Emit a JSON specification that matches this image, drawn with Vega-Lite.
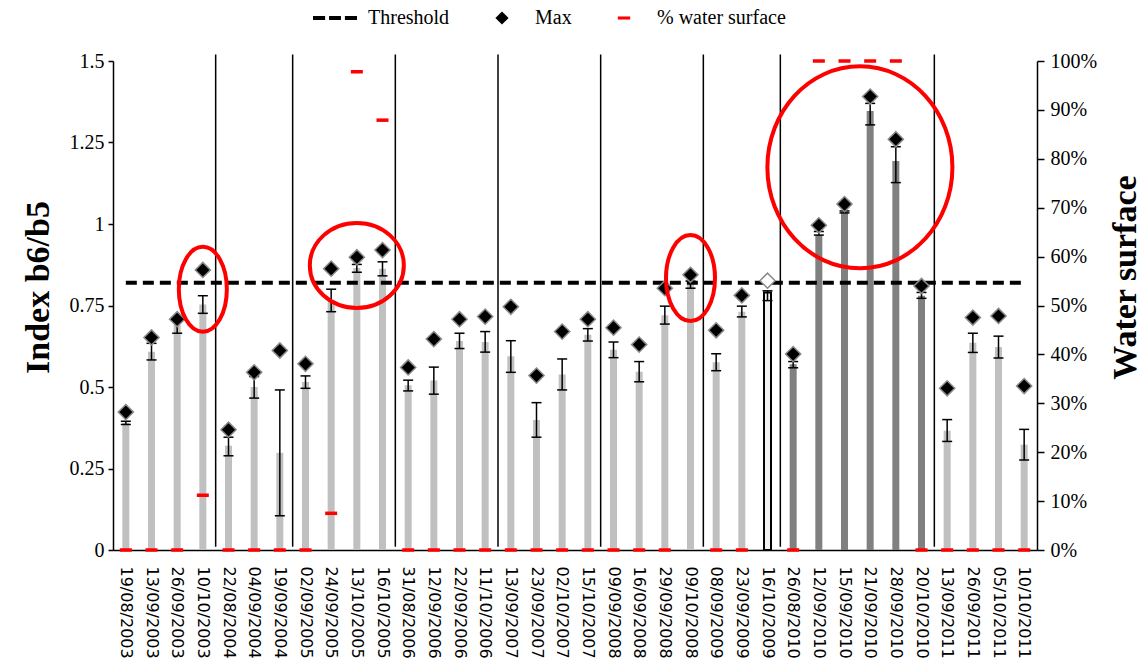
{
  "$schema": "https://vega.github.io/schema/vega-lite/v6.json",
  "width": 924,
  "height": 489,
  "autosize": {"type": "none"},
  "padding": {"left": 113, "top": 61, "right": 109, "bottom": 113},
  "background": "white",
  "config": {
    "view": {"stroke": null},
    "axis": {"grid": false, "domainColor": "black", "tickColor": "black", "labelColor": "black", "titleColor": "black", "domainWidth": 1.5, "tickWidth": 1.5}
  },
  "data": {
    "values": [
      {"date": "19/08/2003", "group": "light", "mean": 0.39, "lo": 0.385, "hi": 0.395, "max": 0.423, "water": 0},
      {"date": "13/09/2003", "group": "light", "mean": 0.608, "lo": 0.583, "hi": 0.634, "max": 0.652, "water": 0},
      {"date": "26/09/2003", "group": "light", "mean": 0.69, "lo": 0.665, "hi": 0.71, "max": 0.708, "water": 0},
      {"date": "10/10/2003", "group": "light", "mean": 0.753, "lo": 0.726, "hi": 0.78, "max": 0.859, "water": 11.2},
      {"date": "22/08/2004", "group": "light", "mean": 0.32, "lo": 0.289, "hi": 0.346, "max": 0.369, "water": 0},
      {"date": "04/09/2004", "group": "light", "mean": 0.5, "lo": 0.466, "hi": 0.532, "max": 0.545, "water": 0},
      {"date": "19/09/2004", "group": "light", "mean": 0.298, "lo": 0.105, "hi": 0.491, "max": 0.612, "water": 0},
      {"date": "02/09/2005", "group": "light", "mean": 0.515, "lo": 0.496, "hi": 0.534, "max": 0.571, "water": 0},
      {"date": "24/09/2005", "group": "light", "mean": 0.765, "lo": 0.731, "hi": 0.8, "max": 0.863, "water": 7.5},
      {"date": "13/10/2005", "group": "light", "mean": 0.865, "lo": 0.852, "hi": 0.876, "max": 0.898, "water": 97.8},
      {"date": "16/10/2005", "group": "light", "mean": 0.863, "lo": 0.841, "hi": 0.884, "max": 0.92, "water": 87.9},
      {"date": "31/08/2006", "group": "light", "mean": 0.505, "lo": 0.488, "hi": 0.521, "max": 0.56, "water": 0},
      {"date": "12/09/2006", "group": "light", "mean": 0.52, "lo": 0.478, "hi": 0.561, "max": 0.647, "water": 0},
      {"date": "22/09/2006", "group": "light", "mean": 0.641, "lo": 0.618, "hi": 0.665, "max": 0.708, "water": 0},
      {"date": "11/10/2006", "group": "light", "mean": 0.638, "lo": 0.607, "hi": 0.67, "max": 0.716, "water": 0},
      {"date": "13/09/2007", "group": "light", "mean": 0.594, "lo": 0.545, "hi": 0.642, "max": 0.746, "water": 0},
      {"date": "23/09/2007", "group": "light", "mean": 0.399, "lo": 0.346, "hi": 0.452, "max": 0.535, "water": 0},
      {"date": "02/10/2007", "group": "light", "mean": 0.538, "lo": 0.491, "hi": 0.586, "max": 0.67, "water": 0},
      {"date": "15/10/2007", "group": "light", "mean": 0.66, "lo": 0.641, "hi": 0.679, "max": 0.708, "water": 0},
      {"date": "09/09/2008", "group": "light", "mean": 0.614, "lo": 0.59, "hi": 0.638, "max": 0.682, "water": 0},
      {"date": "16/09/2008", "group": "light", "mean": 0.547, "lo": 0.516, "hi": 0.578, "max": 0.63, "water": 0},
      {"date": "29/09/2008", "group": "light", "mean": 0.72, "lo": 0.693, "hi": 0.748, "max": 0.803, "water": 0},
      {"date": "09/10/2008", "group": "light", "mean": 0.815, "lo": 0.803, "hi": 0.825, "max": 0.844, "water": null},
      {"date": "08/09/2009", "group": "light", "mean": 0.576, "lo": 0.55, "hi": 0.602, "max": 0.674, "water": 0},
      {"date": "23/09/2009", "group": "light", "mean": 0.731, "lo": 0.715, "hi": 0.748, "max": 0.781, "water": 0},
      {"date": "16/10/2009", "group": "hatched", "mean": 0.79, "lo": 0.765, "hi": 0.795, "max": 0.826, "water": null},
      {"date": "26/08/2010", "group": "dark", "mean": 0.57, "lo": 0.559, "hi": 0.578, "max": 0.601, "water": 0},
      {"date": "12/09/2010", "group": "dark", "mean": 0.966, "lo": 0.966, "hi": 0.977, "max": 0.996, "water": 100},
      {"date": "15/09/2010", "group": "dark", "mean": 1.036, "lo": 1.034, "hi": 1.04, "max": 1.061, "water": 100},
      {"date": "21/09/2010", "group": "dark", "mean": 1.347, "lo": 1.304, "hi": 1.37, "max": 1.391, "water": 100},
      {"date": "28/09/2010", "group": "dark", "mean": 1.193, "lo": 1.127, "hi": 1.237, "max": 1.26, "water": 100},
      {"date": "20/10/2010", "group": "dark", "mean": 0.78, "lo": 0.772, "hi": 0.79, "max": 0.81, "water": 0},
      {"date": "13/09/2011", "group": "light", "mean": 0.366, "lo": 0.333, "hi": 0.4, "max": 0.496, "water": 0},
      {"date": "26/09/2011", "group": "light", "mean": 0.636, "lo": 0.606, "hi": 0.665, "max": 0.713, "water": 0},
      {"date": "05/10/2011", "group": "light", "mean": 0.623, "lo": 0.589, "hi": 0.656, "max": 0.718, "water": 0},
      {"date": "10/10/2011", "group": "light", "mean": 0.323, "lo": 0.276, "hi": 0.37, "max": 0.503, "water": 0}
    ]
  },
  "encoding": {
    "x": {
      "field": "date", "type": "nominal", "sort": null,
      "scale": {"paddingInner": 0, "paddingOuter": 0, "domain": ["19/08/2003","13/09/2003","26/09/2003","10/10/2003","22/08/2004","04/09/2004","19/09/2004","02/09/2005","24/09/2005","13/10/2005","16/10/2005","31/08/2006","12/09/2006","22/09/2006","11/10/2006","13/09/2007","23/09/2007","02/10/2007","15/10/2007","09/09/2008","16/09/2008","29/09/2008","09/10/2008","08/09/2009","23/09/2009","16/10/2009","26/08/2010","12/09/2010","15/09/2010","21/09/2010","28/09/2010","20/10/2010","13/09/2011","26/09/2011","05/10/2011","10/10/2011"]},
      "axis": {"title": null, "labelAngle": 90, "ticks": false, "labelPadding": 16, "labelFont": "DejaVu Sans", "labelFontSize": 16, "labelOverlap": false, "labelBound": false}
    }
  },
  "layer": [
    {
      "layer": [
        {
          "mark": {"type": "bar", "width": 7, "strokeWidth": 2},
          "encoding": {
            "y": {"field": "mean", "type": "quantitative", "scale": {"domain": [0, 1.5], "nice": false},
              "axis": {"orient": "left", "values": [0, 0.25, 0.5, 0.75, 1, 1.25, 1.5], "labelExpr": "'' + datum.value", "tickSize": 5, "labelPadding": 4, "labelFont": "Liberation Serif", "labelFontSize": 20, "title": "Index b6/b5", "titleFont": "Liberation Serif", "titleFontSize": 34, "titleFontWeight": "bold", "titlePadding": 14, "titleY": 226}},
            "fill": {"field": "group", "type": "nominal", "scale": {"domain": ["light", "dark", "hatched"], "range": ["#c0c0c0", "#808080", "#f2f2f2"]}, "legend": null},
            "stroke": {"condition": {"test": "datum.group === 'hatched'", "value": "black"}, "value": null}
          }
        },
        {
          "mark": {"type": "rule", "color": "black", "strokeWidth": 1.5},
          "encoding": {"y": {"field": "lo", "type": "quantitative"}, "y2": {"field": "hi"}}
        },
        {
          "mark": {"type": "tick", "color": "black", "size": 10, "thickness": 1.5, "orient": "horizontal", "opacity": 1},
          "encoding": {"y": {"field": "lo", "type": "quantitative"}}
        },
        {
          "mark": {"type": "tick", "color": "black", "size": 10, "thickness": 1.5, "orient": "horizontal", "opacity": 1},
          "encoding": {"y": {"field": "hi", "type": "quantitative"}}
        },
        {
          "data": {"values": [{"start": "19/08/2003", "end": "10/10/2011", "thr": 0.82}]},
          "mark": {"type": "rule", "color": "black", "strokeWidth": 4, "strokeDash": [11, 6]},
          "encoding": {"x": {"field": "start", "type": "nominal"}, "x2": {"field": "end"}, "y": {"field": "thr", "type": "quantitative"}}
        },
        {
          "mark": {"type": "point", "shape": "diamond", "size": 230, "filled": true, "opacity": 1, "stroke": "#8a8a8a", "strokeWidth": 1.5},
          "encoding": {
            "y": {"field": "max", "type": "quantitative"},
            "fill": {"condition": {"test": "datum.group === 'hatched'", "value": "white"}, "value": "black"}
          }
        },
        {
          "data": {"values": [{"d": "10/10/2003"}, {"d": "19/09/2004"}, {"d": "16/10/2005"}, {"d": "11/10/2006"}, {"d": "15/10/2007"}, {"d": "09/10/2008"}, {"d": "16/10/2009"}, {"d": "20/10/2010"}]},
          "mark": {"type": "rule", "color": "black", "strokeWidth": 1.5},
          "encoding": {"x": {"field": "d", "type": "nominal", "bandPosition": 1}, "y": {"datum": 0.01}, "y2": {"datum": 1.52}}
        },
        {
          "data": {"values": [{}]},
          "mark": {"type": "point", "filled": false, "opacity": 1, "stroke": "#ff0000", "strokeWidth": 4, "size": 7225,
            "shape": "M0.565,0C0.565,0.552 0.312,1 0,1C-0.312,1 -0.565,0.552 -0.565,0C-0.565,-0.552 -0.312,-1 0,-1C0.312,-1 0.565,-0.552 0.565,0Z"},
          "encoding": {"x": {"datum": "10/10/2003"}, "y": {"datum": 0.8}}
        },
        {
          "data": {"values": [{}]},
          "mark": {"type": "point", "filled": false, "opacity": 1, "stroke": "#ff0000", "strokeWidth": 4, "size": 8836,
            "shape": "M1,0C1,0.499 0.552,0.904 0,0.904C-0.552,0.904 -1,0.499 -1,0C-1,-0.499 -0.552,-0.904 0,-0.904C0.552,-0.904 1,-0.499 1,0Z"},
          "encoding": {"x": {"datum": "13/10/2005"}, "y": {"datum": 0.873}}
        },
        {
          "data": {"values": [{}]},
          "mark": {"type": "point", "filled": false, "opacity": 1, "stroke": "#ff0000", "strokeWidth": 4, "size": 7396,
            "shape": "M0.57,0C0.57,0.552 0.315,1 0,1C-0.315,1 -0.57,0.552 -0.57,0C-0.57,-0.552 -0.315,-1 0,-1C0.315,-1 0.57,-0.552 0.57,0Z"},
          "encoding": {"x": {"datum": "09/10/2008"}, "y": {"datum": 0.834}}
        },
        {
          "data": {"values": [{}]},
          "mark": {"type": "point", "filled": false, "opacity": 1, "stroke": "#ff0000", "strokeWidth": 4, "size": 40804,
            "shape": "M0.916,0C0.916,0.552 0.506,1 0,1C-0.506,1 -0.916,0.552 -0.916,0C-0.916,-0.552 -0.506,-1 0,-1C0.506,-1 0.916,-0.552 0.916,0Z"},
          "encoding": {"x": {"datum": "21/09/2010", "bandPosition": 0.1}, "y": {"datum": 1.174}}
        },
        {
          "data": {"values": []},
          "mark": {"type": "point", "filled": true, "opacity": 1},
          "encoding": {
            "color": {"field": "series", "type": "nominal",
              "scale": {"domain": ["Threshold", "Max", "% water surface"], "range": ["black", "black", "#ff0000"]},
              "legend": {"orient": "none", "legendX": 200, "legendY": -65, "direction": "horizontal", "title": null, "symbolSize": 1936, "symbolStrokeWidth": 0, "symbolOpacity": 1, "labelFont": "Liberation Serif", "labelFontSize": 20, "labelColor": "black", "labelOffset": 11, "columnPadding": 30, "padding": 0}},
            "shape": {"field": "series", "type": "nominal",
              "scale": {"domain": ["Threshold", "Max", "% water surface"], "range": ["M-1,-0.09H-0.45V0.09H-1Z M-0.27,-0.09H0.27V0.09H-0.27Z M0.45,-0.09H1V0.09H0.45Z", "M-0.3,0L0,-0.3L0.3,0L0,0.3Z", "M-0.28,-0.07H0.28V0.07H-0.28Z"]}}
          }
        }
      ]
    },
    {
      "layer": [
        {
          "mark": {"type": "tick", "color": "#ff0000", "size": 12, "thickness": 3.5, "orient": "horizontal", "opacity": 1},
          "encoding": {
            "y": {"field": "water", "type": "quantitative", "scale": {"domain": [0, 100], "nice": false},
              "axis": {"orient": "right", "values": [0, 10, 20, 30, 40, 50, 60, 70, 80, 90, 100], "labelExpr": "datum.value + '%'", "tickSize": 7, "labelPadding": 6, "labelFont": "Liberation Serif", "labelFontSize": 20, "title": "Water surface", "titleFont": "Liberation Serif", "titleFontSize": 34, "titleFontWeight": "bold", "titlePadding": 12, "titleAngle": 270, "titleBaseline": "top", "titleY": 216}}
          }
        }
      ]
    }
  ],
  "resolve": {"scale": {"y": "independent"}}
}
